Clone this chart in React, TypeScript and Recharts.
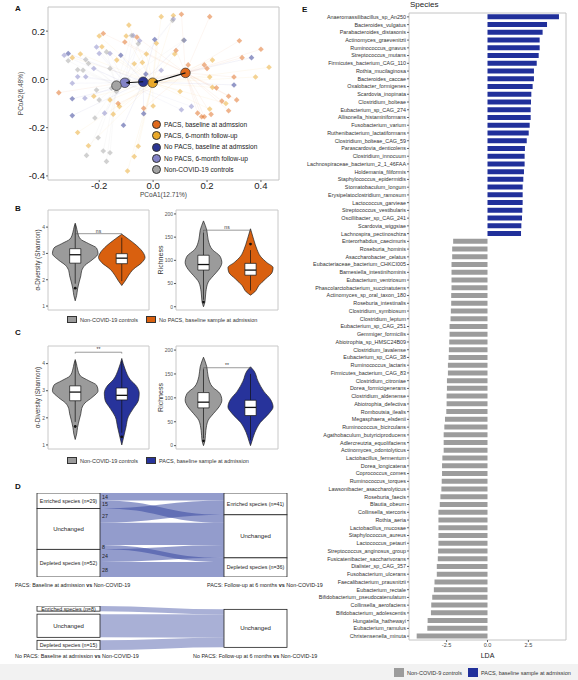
import React from "react";
import {
  BarChart, Bar, Cell, XAxis, YAxis, ReferenceArea, ReferenceLine, ReferenceDot,
  ScatterChart, Scatter, ComposedChart, Area, Sankey,
} from "recharts";

const FONT = '"Liberation Sans", Arial, sans-serif';

// ---------- panel A: PCoA ----------
const pacsBaselinePts: [number, number][] = [
  [0.105, 0.27], [0.21, 0.26], [0.32, 0.16], [0.4, 0.125], [0.33, 0.09], [0.19, 0.06], [0.2, 0.045],
  [0.3, 0.01], [0.235, -0.035], [0.28, -0.07], [0.31, -0.085], [0.255, -0.09], [0.28, -0.13],
  [0.165, -0.14], [0.18, -0.155], [0.19, -0.155], [0.215, -0.145], [-0.06, 0.175], [-0.035, -0.12],
  [-0.13, -0.1], [-0.35, -0.055], [-0.185, 0.19], [-0.105, 0.155], [0.085, 0.12], [0.13, 0.06],
];
const pacsFollowPts: [number, number][] = [
  [0.03, 0.26], [0.075, 0.265], [-0.09, 0.225], [-0.1, 0.18], [-0.2, 0.18], [0.08, 0.105],
  [-0.025, 0.105], [-0.135, 0.08], [-0.07, 0.065], [-0.04, 0.07], [0.22, 0.08], [0.38, 0.01],
  [0.43, 0.05], [0.21, 0.01], [0.22, -0.033], [0.27, -0.1], [0.21, -0.123], [0.0, -0.11],
  [-0.16, -0.085], [-0.125, -0.112], [-0.22, -0.07], [-0.28, -0.22], [-0.24, -0.275], [-0.07, -0.32],
  [-0.095, -0.38], [-0.055, -0.277], [-0.148, -0.144], [-0.27, 0.105], [-0.3, 0.09], [-0.19, 0.135],
  [0.012, 0.15], [0.1, -0.05],
];
const noPacsBaselinePts: [number, number][] = [
  [-0.315, 0.107], [-0.3, -0.15], [-0.3, -0.08], [-0.11, -0.19], [-0.035, -0.142], [0.365, 0.09],
  [0.3, -0.023], [0.006, 0.165], [0.115, 0.162], [-0.12, 0.1], [-0.027, 0.022],
];
const noPacsFollowPts: [number, number][] = [
  [-0.25, 0.011], [-0.28, 0.011], [-0.2, 0.107], [-0.16, 0.107], [-0.074, 0.182], [-0.253, -0.078],
  [-0.18, -0.14], [0.105, -0.126], [0.142, -0.112], [0.03, 0.038], [-0.3, -0.016], [-0.22, 0.045],
  [-0.21, 0.134], [0.075, 0.25], [-0.05, 0.16], [-0.33, 0.1],
];
const controlPts: [number, number][] = [
  [-0.25, 0.082], [-0.24, 0.066], [-0.26, 0.038], [-0.173, 0.114], [-0.16, 0.045], [-0.2, -0.085],
  [-0.216, -0.16], [-0.204, -0.242], [-0.247, -0.315], [-0.173, -0.34], [-0.16, -0.304], [-0.185, -0.297],
  [-0.154, -0.037], [-0.136, -0.05], [-0.21, -0.044], [-0.08, 0.182], [0.072, 0.244], [0.113, 0.162],
  [-0.055, 0.148], [-0.315, 0.077], [-0.093, -0.003], [-0.28, 0.04],
];

const pcoaGroups = [
  { name: "PACS, baseline at admssion", color: "#e06a1c", pts: pacsBaselinePts, centroid: [0.12, 0.027] },
  { name: "PACS, 6-month follow-up", color: "#e9a829", pts: pacsFollowPts, centroid: [-0.002, -0.014] },
  { name: "No PACS, baseline at admssion", color: "#2b3592", pts: noPacsBaselinePts, centroid: [-0.037, -0.01] },
  { name: "No PACS, 6-month follow-up", color: "#8383c6", pts: noPacsFollowPts, centroid: [-0.105, -0.014] },
  { name: "Non-COVID-19 controls", color: "#a3a3a3", pts: controlPts, centroid: [-0.136, -0.026] },
];

// ---------- panels B / C: violins ----------
const shannonControls: [number, number][] = [
  [1.2, 0], [1.4, 0.03], [1.65, 0.05], [1.95, 0.09], [2.15, 0.12], [2.35, 0.14], [2.55, 0.21],
  [2.75, 0.36], [3.0, 0.49], [3.2, 0.46], [3.37, 0.29], [3.55, 0.11], [3.8, 0.05], [4.0, 0.025], [4.15, 0],
];
const shannonNoPacs: [number, number][] = [
  [1.78, 0], [1.95, 0.07], [2.15, 0.14], [2.4, 0.25], [2.65, 0.43], [2.85, 0.5], [3.0, 0.47],
  [3.3, 0.32], [3.55, 0.14], [3.73, 0],
];
const shannonPacs: [number, number][] = [
  [1.0, 0], [1.29, 0.04], [1.66, 0.09], [2.04, 0.14], [2.35, 0.25], [2.66, 0.36], [2.91, 0.375],
  [3.16, 0.32], [3.41, 0.18], [3.8, 0.07], [4.19, 0],
];
const richnessControls: [number, number][] = [
  [0, 0], [10, 0.03], [32, 0.05], [53, 0.1], [67, 0.21], [81, 0.33], [95, 0.39], [109, 0.35],
  [123, 0.19], [144, 0.1], [165, 0.07], [185, 0],
];
const richnessNoPacs: [number, number][] = [
  [25, 0], [32, 0.09], [46, 0.18], [60, 0.32], [74, 0.46], [84.5, 0.48], [95, 0.35], [109, 0.21],
  [123, 0.14], [144, 0.07], [168, 0],
];
const richnessPacs: [number, number][] = [
  [0, 0], [9, 0.03], [27, 0.09], [48.5, 0.21], [67, 0.39], [81, 0.48], [96, 0.43], [114, 0.28],
  [135, 0.16], [157, 0.07], [165, 0],
];

// box: [q1, median, q3], whiskers [low, high]
const shannonControlsBox = { box: [2.63, 2.95, 3.18], whisker: [1.85, 4.1], outliers: [1.68] };
const shannonNoPacsBox = { box: [2.61, 2.82, 2.99], whisker: [1.95, 3.6], outliers: [] as number[] };
const shannonPacsBox = { box: [2.66, 2.83, 3.1], whisker: [1.45, 4.1], outliers: [1.3] };
const richnessControlsBox = { box: [79, 91, 111], whisker: [15, 160], outliers: [10] };
const richnessNoPacsBox = { box: [68, 79, 93.5], whisker: [35, 122], outliers: [135] };
const richnessPacsBox = { box: [63, 80, 95], whisker: [12, 150], outliers: [] as number[] };

const GREY = "#9b9b9b";
const ORANGE = "#d9600f";
const NAVY = "#27339b";

// ---------- panel D: alluvial ----------
const pacsNodes = [
  "Enriched species (n=29)", "Unchanged", "Depleted species (n=52)",
  "Enriched species (n=41)", "Unchanged", "Depleted species (n=36)",
];
const pacsLinks: [number, number, number][] = [
  [0, 3, 14], [0, 4, 15], [1, 3, 27], [1, 4, 42], [1, 5, 8], [2, 4, 24], [2, 5, 28],
];
const noPacsNodes = ["Enriched species (n=8)", "Unchanged", "Depleted species (n=15)", "Unchanged"];
const noPacsLinks: [number, number, number][] = [[0, 3, 8], [1, 3, 36], [2, 3, 15]];

// ---------- panel E: LEfSe ----------
const pacsSpecies = [
  "Anaeromassilibacillus_sp_An250", "Bacteroides_vulgatus", "Parabacteroides_distasonis",
  "Actinomyces_graevenitzii", "Ruminococcus_gnavus", "Streptococcus_mutans",
  "Firmicutes_bacterium_CAG_110", "Rothia_mucilaginosa", "Bacteroides_caccae", "Oxalobacter_formigenes",
  "Scardovia_inopinata", "Clostridium_bolteae", "Eubacterium_sp_CAG_274", "Allisonella_histaminiformans",
  "Fusobacterium_varium", "Ruthenibacterium_lactatiformans", "Clostridium_bolteae_CAG_59",
  "Parascardovia_denticolens", "Clostridium_innocuum", "Lachnospiraceae_bacterium_2_1_46FAA",
  "Holdemania_filiformis", "Staphylococcus_epidermidis", "Stomatobaculum_longum",
  "Erysipelatoclostridium_ramosum", "Lactococcus_garvieae", "Streptococcus_vestibularis",
  "Oscillibacter_sp_CAG_241", "Scardovia_wiggsiae", "Lachnospira_pectinoschiza",
];
const pacsLDA = [
  4.37, 3.64, 3.37, 3.19, 3.19, 3.13, 3.01, 2.84, 2.84, 2.76, 2.68, 2.66, 2.64, 2.64, 2.58, 2.52, 2.4,
  2.29, 2.27, 2.27, 2.23, 2.19, 2.15, 2.15, 2.15, 2.13, 2.11, 2.07, 2.05,
];
const controlSpecies = [
  "Enterorhabdus_caecimuris", "Roseburia_hominis", "Asaccharobacter_celatus",
  "Eubacteriaceae_bacterium_CHKCI005", "Barnesiella_intestinihominis", "Eubacterium_ventriosum",
  "Phascolarctobacterium_succinatutens", "Actinomyces_sp_oral_taxon_180", "Roseburia_intestinalis",
  "Clostridium_symbiosum", "Clostridium_leptum", "Eubacterium_sp_CAG_251", "Gemmiger_formicilis",
  "Abiotrophia_sp_HMSC24B09", "Clostridium_lavalense", "Eubacterium_sp_CAG_38", "Ruminococcus_lactaris",
  "Firmicutes_bacterium_CAG_83", "Clostridium_citroniae", "Dorea_formicigenerans", "Clostridium_aldenense",
  "Abiotrophia_defectiva", "Romboutsia_ilealis", "Megasphaera_elsdenii", "Ruminococcus_bicirculans",
  "Agathobaculum_butyriciproducens", "Adlercreutzia_equolifaciens", "Actinomyces_odontolyticus",
  "Lactobacillus_fermentum", "Dorea_longicatena", "Coprococcus_comes", "Ruminococcus_torques",
  "Lawsonibacter_asaccharolyticus", "Roseburia_faecis", "Blautia_obeum", "Collinsella_stercoris",
  "Rothia_aeria", "Lactobacillus_mucosae", "Staphylococcus_aureus", "Lactococcus_petauri",
  "Streptococcus_anginosus_group", "Fusicatenibacter_saccharivorans", "Dialister_sp_CAG_357",
  "Fusobacterium_ulcerans", "Faecalibacterium_prausnitzii", "Eubacterium_rectale",
  "Bifidobacterium_pseudocatenulatum", "Collinsella_aerofaciens", "Bifidobacterium_adolescentis",
  "Hungatella_hathewayi", "Eubacterium_ramulus", "Christensenella_minuta",
];
const controlLDA = [
  -2.1, -2.16, -2.16, -2.2, -2.2, -2.2, -2.2, -2.22, -2.22, -2.24, -2.26, -2.32, -2.32, -2.34, -2.36,
  -2.38, -2.42, -2.42, -2.48, -2.48, -2.5, -2.5, -2.52, -2.6, -2.64, -2.68, -2.68, -2.68, -2.76, -2.78,
  -2.78, -2.8, -2.82, -2.88, -2.92, -3.0, -3.0, -3.0, -3.0, -3.0, -3.02, -3.04, -3.1, -3.1, -3.24,
  -3.28, -3.38, -3.44, -3.46, -3.66, -3.68, -4.33,
];
const ldaTicks = [-2.5, 0, 2.5];

const ldaRows = [
  ...pacsSpecies.map((s, i) => ({ species: s, lda: pacsLDA[i] })),
  ...controlSpecies.map((s, i) => ({ species: s, lda: controlLDA[i] })),
];

const abs = (left: number, top: number): React.CSSProperties => ({ position: "absolute", left, top });

const Diamond = (props: any) => {
  const { cx, cy, fill } = props;
  const r = 2.8;
  return <path d={`M${cx},${cy - r}L${cx + r},${cy}L${cx},${cy + r}L${cx - r},${cy}Z`} fill={fill} fillOpacity={0.5} />;
};

const Centroid = (props: any) => {
  const { cx, cy, fill } = props;
  return <circle cx={cx} cy={cy} r={4.8} fill={fill} stroke="#333" strokeWidth={0.7} />;
};

function PcoaPanel() {
  const fmt = (v: number) => v.toFixed(1);
  return (
    <div style={abs(0, 0)}>
      <ScatterChart width={300} height={205} margin={{ top: 7, right: 21, bottom: 5, left: 0 }}>
        <XAxis type="number" dataKey="x" domain={[-0.39, 0.467]} ticks={[-0.2, 0, 0.2, 0.4]} tickFormatter={fmt}
          tick={{ fontSize: 9.5, fill: "#222" }} tickSize={2} tickMargin={0} axisLine={false} height={20}
          label={{ value: "PCoA1(12.71%)", position: "insideBottom", offset: 3, fontSize: 6.5, fill: "#444" }} />
        <YAxis type="number" dataKey="y" domain={[-0.417, 0.3]} ticks={[-0.4, -0.2, 0, 0.2]} tickFormatter={fmt}
          tick={{ fontSize: 9.5, fill: "#222" }} tickSize={2} tickMargin={1} axisLine={false} width={48}
          label={{ value: "PCoA2(6.48%)", angle: -90, position: "center", dx: -3, fontSize: 6.5, fill: "#444" }} />
        <ReferenceArea x1={-0.39} x2={0.467} y1={-0.417} y2={0.3} fill="none" stroke="#c4c4c4" />
        {pcoaGroups.flatMap((g, gi) =>
          g.pts.map((p, i) => (
            <ReferenceLine key={`sp-${gi}-${i}`} segment={[{ x: p[0], y: p[1] }, { x: g.centroid[0], y: g.centroid[1] }]}
              stroke={g.color} strokeOpacity={0.1} strokeWidth={0.6} />
          ))
        )}
        {pcoaGroups.map((g) => (
          <Scatter key={g.name} data={g.pts.map(([x, y]) => ({ x, y }))} fill={g.color} shape={<Diamond />} isAnimationActive={false} />
        ))}
        {pcoaGroups.map((g) => (
          <Scatter key={`c-${g.name}`} data={[{ x: g.centroid[0], y: g.centroid[1] }]} fill={g.color} shape={<Centroid />} isAnimationActive={false} />
        ))}
        <ReferenceLine segment={[{ x: pcoaGroups[0].centroid[0], y: pcoaGroups[0].centroid[1] }, { x: pcoaGroups[1].centroid[0] + 0.006, y: pcoaGroups[1].centroid[1] + 0.002 }]}
          stroke="#111" strokeWidth={1.1} markerEnd="url(#arrowHead)" zIndex={800} />
        <ReferenceLine segment={[{ x: pcoaGroups[2].centroid[0], y: pcoaGroups[2].centroid[1] }, { x: pcoaGroups[3].centroid[0] + 0.006, y: pcoaGroups[3].centroid[1] }]}
          stroke="#111" strokeWidth={1.1} markerEnd="url(#arrowHead)" zIndex={800} />
      </ScatterChart>
      <div style={{ ...abs(152, 119), fontSize: 6.6, color: "#222", lineHeight: "11.2px" }}>
        {pcoaGroups.map((g) => (
          <div key={g.name} style={{ display: "flex", alignItems: "center", whiteSpace: "nowrap" }}>
            <span style={{ width: 9, height: 9, borderRadius: 5, background: g.color, border: "0.7px solid #333", marginRight: 3, boxSizing: "border-box" }} />
            {g.name}
          </div>
        ))}
      </div>
    </div>
  );
}

type ViolinSpec = {
  key: string; center: number; color: string; shape: [number, number][];
  stats: { box: number[]; whisker: number[]; outliers: number[] };
};

const VX: [number, number] = [0.415, 2.585];

function ViolinPlot(props: {
  left: number; top: number; width: number; height: number; axisWidth: number; marginRight: number;
  domain: [number, number]; ticks: number[]; label: string; labelDx: number; labelSize: number;
  violins: ViolinSpec[]; bracket: { y: number; text: string; drop: number };
}) {
  const { violins, domain, bracket } = props;
  const bw = 0.12;
  return (
    <div style={{ ...abs(props.left, props.top), width: props.width, height: props.height }}>
      {violins.map((v, idx) => {
        const first = idx === 0;
        const last = idx === violins.length - 1;
        const rows = v.shape.map(([y, w]) => ({ y, band: [v.center - w, v.center + w] }));
        return (
          <div key={v.key} style={abs(0, 0)}>
            <ComposedChart layout="vertical" width={props.width} height={props.height} data={rows}
              margin={{ top: 10, right: props.marginRight, bottom: 5, left: 0 }}>
              <XAxis type="number" domain={VX} hide allowDataOverflow />
              <YAxis type="number" dataKey="y" domain={domain} ticks={props.ticks} allowDataOverflow reversed
                width={props.axisWidth} tick={first ? { fontSize: 5, fill: "#555" } : false} tickSize={2} tickMargin={1}
                axisLine={false} tickLine={first ? { stroke: "#555" } : false}
                label={first ? { value: props.label, angle: -90, position: "center", dx: props.labelDx, fontSize: props.labelSize, fill: "#333" } : undefined} />
              {first && <ReferenceArea x1={VX[0]} x2={VX[1]} y1={domain[0]} y2={domain[1]} fill="none" stroke="#c8c8c8" />}
              <Area dataKey="band" type="monotone" fill={v.color} fillOpacity={1}
                stroke="#222" strokeWidth={0.7} isAnimationActive={false} dot={false} activeDot={false} />
              <ReferenceLine segment={[{ x: v.center, y: v.stats.whisker[0] }, { x: v.center, y: v.stats.box[0] }]} stroke="#111" strokeWidth={0.7} zIndex={700} />
              <ReferenceLine segment={[{ x: v.center, y: v.stats.box[2] }, { x: v.center, y: v.stats.whisker[1] }]} stroke="#111" strokeWidth={0.7} zIndex={700} />
              <ReferenceArea x1={v.center - bw} x2={v.center + bw} y1={v.stats.box[0]} y2={v.stats.box[2]}
                fill="#fff" fillOpacity={1} stroke="#111" strokeWidth={0.7} zIndex={710} />
              <ReferenceLine segment={[{ x: v.center - bw, y: v.stats.box[1] }, { x: v.center + bw, y: v.stats.box[1] }]} stroke="#111" strokeWidth={1.3} zIndex={720} />
              {v.stats.outliers.map((o, i) => (
                <ReferenceDot key={`o-${i}`} x={v.center} y={o} r={1.4} fill="#111" stroke="none" zIndex={730} />
              ))}
              {last && (
                <ReferenceLine segment={[{ x: 1, y: bracket.y }, { x: 2, y: bracket.y }]} stroke="#555" strokeWidth={0.6}
                  label={{ value: bracket.text, position: "top", fontSize: 5, fill: "#333", offset: 1 }} />
              )}
              {last && <ReferenceLine segment={[{ x: 1, y: bracket.y }, { x: 1, y: bracket.y - bracket.drop }]} stroke="#555" strokeWidth={0.6} />}
              {last && <ReferenceLine segment={[{ x: 2, y: bracket.y }, { x: 2, y: bracket.y - bracket.drop }]} stroke="#555" strokeWidth={0.6} />}
            </ComposedChart>
          </div>
        );
      })}
    </div>
  );
}

function ViolinRow({ top, height, second, legendTop, legendText, shannonBracket, richBracket }: any) {
  return (
    <>
      <ViolinPlot left={0} top={top} width={152} height={height} axisWidth={48} marginRight={3}
        domain={[0.85, 4.65]} ticks={[1, 2, 3, 4]} label="α-Diversity (Shannon)" labelDx={14} labelSize={6.3}
        violins={[
          { key: "ctl", center: 1, color: GREY, shape: shannonControls, stats: shannonControlsBox },
          { key: "grp", center: 2, color: second.color, shape: second.shannon, stats: second.shannonBox },
        ]}
        bracket={shannonBracket} />
      <ViolinPlot left={152} top={top} width={130} height={height} axisWidth={24} marginRight={4}
        domain={[-7, 208.5]} ticks={[0, 50, 100, 150, 200]} label="Richness" labelDx={-3} labelSize={7}
        violins={[
          { key: "ctl", center: 1, color: GREY, shape: richnessControls, stats: richnessControlsBox },
          { key: "grp", center: 2, color: second.color, shape: second.richness, stats: second.richnessBox },
        ]}
        bracket={richBracket} />
      <div style={{ ...abs(67, legendTop), display: "flex", alignItems: "center", fontSize: 5.5, color: "#333", whiteSpace: "nowrap" }}>
        <span style={{ width: 10, height: 7, background: GREY, border: "0.7px solid #333", boxSizing: "border-box", marginRight: 3 }} />
        <span style={{ marginRight: 8 }}>Non-COVID-19 controls</span>
        <span style={{ width: 10, height: 7, background: second.color, border: "0.7px solid #333", boxSizing: "border-box", marginRight: 3 }} />
        <span>{legendText}</span>
      </div>
    </>
  );
}

const SankeyNode = (props: any) => {
  const { x, y, width, height, payload } = props;
  return (
    <g>
      <rect x={x} y={y} width={width} height={height} fill="#fff" stroke="#222" strokeWidth={0.8} />
      <text x={x + width / 2} y={y + height / 2} textAnchor="middle" dominantBaseline="central"
        fontSize={payload.name === "Unchanged" ? 6 : 5.3} fill="#222">
        {payload.name}
      </text>
    </g>
  );
};

const makeLink = (showValue: boolean, color: string, opacity: number) => (props: any) => {
  const { sourceX, targetX, sourceY, targetY, sourceControlX, targetControlX, linkWidth, payload } = props;
  const stay = payload.source?.name === "Unchanged" && payload.target?.name === "Unchanged";
  return (
    <g>
      <path d={`M${sourceX},${sourceY}C${sourceControlX},${sourceY} ${targetControlX},${targetY} ${targetX},${targetY}`}
        fill="none" stroke={color} strokeOpacity={opacity} strokeWidth={linkWidth} />
      {showValue && !stay && (
        <text x={sourceX + 2} y={sourceY} dominantBaseline="central" fontSize={5.3} fill="#222">{payload.value}</text>
      )}
    </g>
  );
};

const toSankey = (nodes: string[], links: [number, number, number][]) => ({
  nodes: nodes.map((name) => ({ name })),
  links: links.map(([source, target, value]) => ({ source, target, value })),
});

function AlluvialPanel() {
  const cap = { fontSize: 5.4, color: "#222", whiteSpace: "nowrap" as const };
  return (
    <>
      <div style={abs(0, 493)}>
        <Sankey width={288} height={84} data={toSankey(pacsNodes, pacsLinks)} nodeWidth={63} nodePadding={0}
          iterations={0} margin={{ top: 0, right: 1, bottom: 0, left: 37 }}
          node={<SankeyNode />} link={makeLink(true, "#3b4aa2", 0.55)} />
      </div>
      <div style={{ ...abs(15, 582), ...cap }}>PACS: Baseline at admission <b>vs</b> Non-COVID-19</div>
      <div style={{ ...abs(207, 582), ...cap }}>PACS: Follow-up at 6 months <b>vs</b> Non-COVID-19</div>
      <div style={abs(0, 606)}>
        <Sankey width={288} height={44} data={toSankey(noPacsNodes, noPacsLinks)} nodeWidth={63} nodePadding={3}
          iterations={32} sort={false} margin={{ top: 0, right: 1, bottom: 0, left: 37 }}
          node={<SankeyNode />} link={makeLink(false, "#5361ad", 0.5)} />
      </div>
      <div style={{ ...abs(15, 653), ...cap }}>No PACS: Baseline at admission <b>vs</b> Non-COVID-19</div>
      <div style={{ ...abs(193, 653), ...cap }}>No PACS: Follow-up at 6 months <b>vs</b> Non-COVID-19</div>
    </>
  );
}

function LdaPanel() {
  return (
    <>
      <div style={abs(300, 0)}>
        <BarChart layout="vertical" width={278} height={660} data={ldaRows} barCategoryGap="17%"
          margin={{ top: 13, right: 12, bottom: 0, left: 0 }}>
          <XAxis type="number" domain={[-4.8, 4.8]} ticks={ldaTicks} tickFormatter={(v: number) => v.toFixed(1)}
            tick={{ fontSize: 5.5, fill: "#444" }} tickSize={2} tickMargin={1} axisLine={false} height={20}
            label={{ value: "LDA", position: "insideBottom", offset: 2, fontSize: 7, fill: "#222" }} />
          <YAxis type="category" dataKey="species" width={109} interval={0} tick={{ fontSize: 5.4, fill: "#333" }}
            tickSize={2} tickMargin={1} axisLine={false} />
          <ReferenceArea x1={-4.8} x2={4.8} fill="none" stroke="#c4c4c4" />
          <Bar dataKey="lda" isAnimationActive={false}>
            {ldaRows.map((r) => (
              <Cell key={r.species} fill={r.lda > 0 ? "#21309b" : "#9c9c9c"} />
            ))}
          </Bar>
        </BarChart>
      </div>
      <div style={{ ...abs(410, 0), fontSize: 8, color: "#222" }}>Species</div>
      <div style={{ ...abs(394, 668), display: "flex", alignItems: "center", fontSize: 5.5, color: "#333", whiteSpace: "nowrap" }}>
        <span style={{ width: 10, height: 9, background: "#9c9c9c", marginRight: 3 }} />
        <span style={{ marginRight: 6 }}>Non-COVID-9 controls</span>
        <span style={{ width: 10, height: 9, background: "#21309b", marginRight: 3 }} />
        <span>PACS, baseline sample at admission</span>
      </div>
    </>
  );
}

const panelLetter = (letter: string, left: number, top: number) => (
  <div style={{ ...abs(left, top), fontSize: 8, fontWeight: "bold", color: "#111" }}>{letter}</div>
);

export default function App() {
  return (
    <div style={{ position: "absolute", left: 0, top: 0, width: 578, height: 680, background: "#fff", fontFamily: FONT, overflow: "hidden" }}>
      <svg width={0} height={0} style={{ position: "absolute" }}>
        <defs>
          <marker id="arrowHead" viewBox="0 0 10 10" refX="9" refY="5" markerWidth="4" markerHeight="4" orient="auto">
            <path d="M0,0L10,5L0,10Z" fill="#111" />
          </marker>
        </defs>
      </svg>
      <div style={{ ...abs(0, 664), width: 578, height: 16, background: "#f2f2f2" }} />
      <LdaPanel />
      <PcoaPanel />
      <ViolinRow top={200} height={115}
        second={{ color: ORANGE, shannon: shannonNoPacs, shannonBox: shannonNoPacsBox, richness: richnessNoPacs, richnessBox: richnessNoPacsBox }}
        legendTop={316} legendText="No PACS, baseline sample at admission"
        shannonBracket={{ y: 3.75, text: "ns", drop: 0.05 }} richBracket={{ y: 165, text: "ns", drop: 3 }} />
      <ViolinRow top={336} height={118}
        second={{ color: NAVY, shannon: shannonPacs, shannonBox: shannonPacsBox, richness: richnessPacs, richnessBox: richnessPacsBox }}
        legendTop={457} legendText="PACS, baseline sample at admission"
        shannonBracket={{ y: 4.42, text: "**", drop: 0.05 }} richBracket={{ y: 163, text: "**", drop: 3 }} />
      <AlluvialPanel />
      {panelLetter("A", 15, 4)}
      {panelLetter("B", 15, 204)}
      {panelLetter("C", 15, 328)}
      {panelLetter("D", 15, 482)}
      {panelLetter("E", 302, 5)}
    </div>
  );
}
